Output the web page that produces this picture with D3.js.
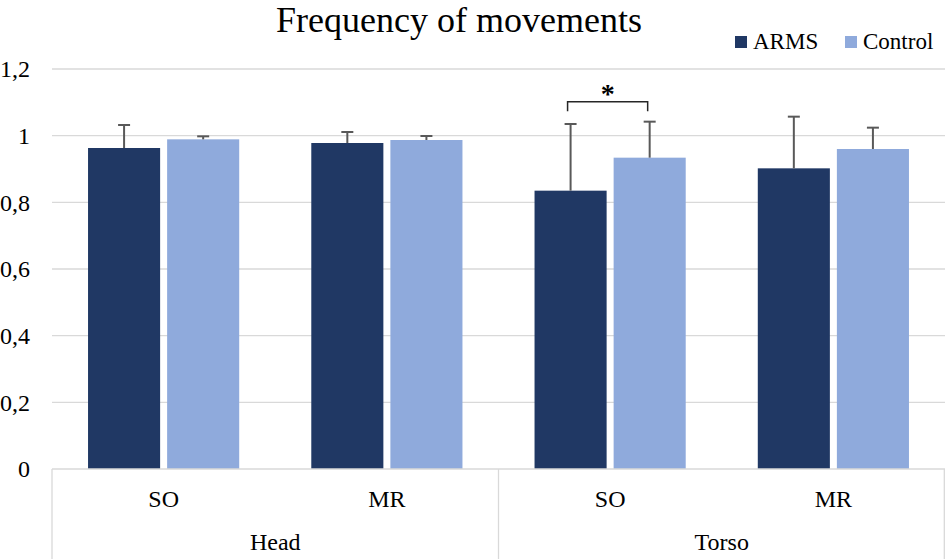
<!DOCTYPE html>
<html><head><meta charset="utf-8">
<script src="https://cdn.jsdelivr.net/npm/d3@7"></script>
<style>body{margin:0;background:#fff}svg{display:block}
svg text{font-family:"Liberation Serif","Times New Roman",Times,"DejaVu Serif",serif;}</style>
</head><body>
<svg id="c" width="945" height="559"></svg>
<script>
const groups = ["Head", "Torso"];
const subcats = ["SO", "MR"];
const series = ["ARMS", "Control"];
const colors = ["#203864", "#8faadc"];
// values in order: Head SO, Head MR, Torso SO, Torso MR
const armsMean = [0.963, 0.978, 0.835, 0.902];
const armsErr  = [0.069, 0.033, 0.200, 0.155];
const ctrlMean = [0.989, 0.987, 0.934, 0.960];
const ctrlErr  = [0.009, 0.012, 0.108, 0.064];
const yTicks = [0, 0.2, 0.4, 0.6, 0.8, 1, 1.2];

(function () {
const svg = d3.select("#c");
const W = 945, H = 559;
const mLeft = 52, mRight = 945, mTop = 69, mBottom = 469;

const y = d3.scaleLinear().domain([0, 1.2]).range([mBottom, mTop]);
const xg = d3.scaleBand().domain(groups).range([mLeft, mRight]).padding(0);
const xs = d3.scaleBand().domain(subcats).range([0, xg.bandwidth()]).padding(0);
const xb = d3.scaleBand().domain(series).range([0, xs.bandwidth()])
  .paddingInner(7/79).paddingOuter(0.4557);

// gridlines
svg.append("g").selectAll("line").data(yTicks.filter(d => d > 0)).join("line")
  .attr("x1", mLeft).attr("x2", mRight)
  .attr("y1", d => y(d)).attr("y2", d => y(d))
  .attr("stroke", "#d9d9d9").attr("stroke-width", 1.3);

// y axis labels
const yAxis = d3.axisLeft(y).tickValues(yTicks).tickSize(0).tickPadding(0)
  .tickFormat(d => String(d).replace(".", ","));
const ya = svg.append("g").attr("transform", `translate(30,0)`).call(yAxis);
ya.select(".domain").remove();
ya.attr("font-family", null).attr("font-size", null);
ya.selectAll("text").style("font-size", "24px").attr("fill", "#000");

// data rows
const rows = [];
groups.forEach((g, gi) => subcats.forEach((s, si) => {
  const i = gi * 2 + si;
  rows.push({g, s, k: "ARMS", v: armsMean[i], e: armsErr[i], c: colors[0]});
  rows.push({g, s, k: "Control", v: ctrlMean[i], e: ctrlErr[i], c: colors[1]});
}));
const xPos = d => xg(d.g) + xs(d.s) + xb(d.k);

svg.append("g").selectAll("rect").data(rows).join("rect")
  .attr("x", xPos).attr("width", xb.bandwidth())
  .attr("y", d => y(d.v)).attr("height", d => y(0) - y(d.v))
  .attr("fill", d => d.c);

// error bars (upper only)
const eb = svg.append("g").attr("stroke", "#595959").attr("stroke-width", 2);
rows.forEach(d => {
  const cx = xPos(d) + xb.bandwidth() / 2;
  eb.append("line").attr("x1", cx).attr("x2", cx).attr("y1", y(d.v)).attr("y2", y(d.v + d.e));
  eb.append("line").attr("x1", cx - 6).attr("x2", cx + 6).attr("y1", y(d.v + d.e)).attr("y2", y(d.v + d.e));
});

// significance bracket on Torso SO
const bA = xg("Torso") + xs("SO") + xb("ARMS") + xb.bandwidth() / 2 - 3;
const bC = xg("Torso") + xs("SO") + xb("Control") + xb.bandwidth() / 2 - 2;
svg.append("path")
  .attr("d", `M${bA},${y(1.073)} L${bA},${y(1.102)} L${bC},${y(1.102)} L${bC},${y(1.073)}`)
  .attr("fill", "none").attr("stroke", "#262626").attr("stroke-width", 1.5);
svg.append("text").attr("x", (bA + bC) / 2).attr("y", y(1.102) + 1)
  .attr("text-anchor", "middle").attr("font-weight", "bold")
  .style("font-size", "28px").text("*");

// bottom axis box
const ax = svg.append("g").attr("stroke", "#d9d9d9").attr("stroke-width", 1.3);
ax.append("line").attr("x1", mLeft).attr("x2", mRight).attr("y1", mBottom).attr("y2", mBottom);
[mLeft, xg("Torso"), mRight - 0.7].forEach(xx =>
  ax.append("line").attr("x1", xx).attr("x2", xx).attr("y1", mBottom).attr("y2", H));

// category labels
groups.forEach(g => {
  subcats.forEach(s => {
    svg.append("text").attr("x", xg(g) + xs(s) + xs.bandwidth() / 2).attr("y", 507)
      .attr("text-anchor", "middle").style("font-size", "24px").text(s);
  });
  svg.append("text").attr("x", xg(g) + xg.bandwidth() / 2).attr("y", 550)
    .attr("text-anchor", "middle").style("font-size", "24px").text(g);
});

// title
svg.append("text").attr("x", 459).attr("y", 32).attr("text-anchor", "middle")
  .style("font-size", "36px").text("Frequency of movements");

// legend
const lg = svg.append("g");
const legX = [735, 845];
series.forEach((s, i) => {
  lg.append("rect").attr("x", legX[i]).attr("y", 36).attr("width", 12).attr("height", 12).attr("fill", colors[i]);
  lg.append("text").attr("x", legX[i] + 18).attr("y", 49).style("font-size", "23px").text(s);
});
})();
</script>
</body></html>
